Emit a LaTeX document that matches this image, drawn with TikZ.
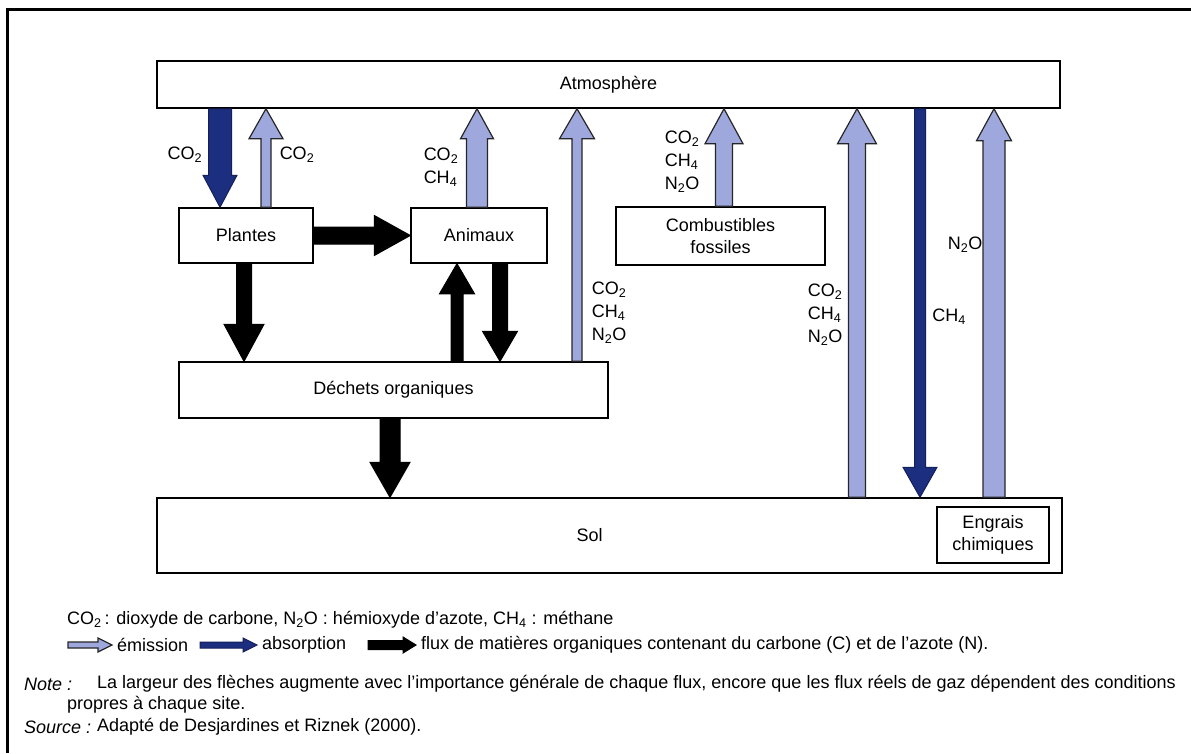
\documentclass[tikz,border=0pt]{standalone}
\usepackage{fontspec}
\setmainfont{Liberation Sans}
\usetikzlibrary{calc}
\usetikzlibrary{positioning}
\definecolor{emis}{RGB}{158,168,220}
\definecolor{absorb}{RGB}{28,46,128}
\newcommand{\cdo}{CO\textsubscript{2}}
\newcommand{\mth}{CH\textsubscript{4}}
\newcommand{\ndo}{N\textsubscript{2}O}
% block arrow: style, from, to, half shaft, half head, head length
\newcommand{\fleche}[6]{%
  \path ($(#3)!#6!(#2)$) coordinate (hb);
  \draw[#1] ($(#2)!#4!90:(#3)$) -- ($(hb)!#4!90:(#3)$) -- ($(hb)!#5!90:(#3)$)
    -- (#3) -- ($(hb)!#5!-90:(#3)$) -- ($(hb)!#4!-90:(#3)$)
    -- ($(#2)!#4!-90:(#3)$) -- cycle;
}
\tikzset{
  boite/.style={draw, line width=1.5pt, inner sep=0pt, align=center},
  emission/.style={draw=black!85, line width=1.2pt, fill=emis, line join=miter},
  absorption/.style={draw=absorb!70!black, line width=1pt, fill=absorb},
  matiere/.style={draw=black, line width=1pt, fill=black},
  gaz/.style={align=left, inner sep=0pt, font=\fontsize{18}{23}\selectfont},
  legende/.style={anchor=west, inner sep=0pt, font=\fontsize{18}{21}\selectfont}
}

\begin{document}
\begin{tikzpicture}[x=1pt, y=-1pt,
    every node/.style={font=\fontsize{18}{21.5}\selectfont}]
  \useasboundingbox (0,0) rectangle (1191,753);
  \draw[line width=3pt] (7,753) -- (7,9) -- (1191,9);

  \node[boite, minimum width=903pt, minimum height=47pt] (atmos) at (608.5,84.5) {Atmosphère};
  \node[boite, minimum width=134pt, minimum height=55pt] (plantes) at (246,235.5) {Plantes};
  \node[boite, minimum width=136pt, minimum height=55pt] (animaux) at (479,235.5) {Animaux};
  \node[boite, minimum width=209pt, minimum height=58pt] (combust) at (720.5,236) {Combustibles\\fossiles};
  \node[boite, minimum width=429pt, minimum height=56pt] (dechets) at (393.5,390) {Déchets organiques};
  \node[boite, minimum width=905pt, minimum height=75pt,
    label={[xshift=-20pt]center:Sol}] (sol) at (609.5,535.5) {};
  \node[boite, minimum width=112pt, minimum height=56pt] (engrais) at (993,535) {Engrais\\chimiques};

  \foreach \n/\x in {a/220,b/266,c/477,d/577,e/724,f/857,g/920,h/994,i/244,j/457,k/500,l/390}{
    \coordinate (x\n) at (\x,0);
  }

  \fleche{absorption}{xa |- atmos.south}{xa |- plantes.north}{11.5pt}{17pt}{32pt}
  \fleche{emission}{xb |- plantes.north}{xb |- atmos.south}{5pt}{17pt}{30pt}
  \fleche{emission}{xc |- animaux.north}{xc |- atmos.south}{10.5pt}{16.5pt}{30pt}
  \fleche{emission}{xd |- dechets.north}{xd |- atmos.south}{5pt}{17.5pt}{30pt}
  \fleche{emission}{xe |- combust.north}{xe |- atmos.south}{8.5pt}{19pt}{35pt}
  \fleche{emission}{xf |- sol.north}{xf |- atmos.south}{8.5pt}{19.5pt}{35pt}
  \fleche{absorption}{xg |- atmos.south}{xg |- sol.north}{5.5pt}{17pt}{30pt}
  \fleche{emission}{xh |- sol.north}{xh |- atmos.south}{11pt}{17.5pt}{32pt}

  \fleche{matiere}{plantes.east}{animaux.west}{8.5pt}{20pt}{36pt}
  \fleche{matiere}{xi |- plantes.south}{xi |- dechets.north}{7.5pt}{20pt}{37pt}
  \fleche{matiere}{xj |- dechets.north}{xj |- animaux.south}{6pt}{17.5pt}{30pt}
  \fleche{matiere}{xk |- animaux.south}{xk |- dechets.north}{7.5pt}{17.5pt}{30pt}
  \fleche{matiere}{xl |- dechets.south}{xl |- sol.north}{10pt}{20pt}{35pt}

  \node[gaz] (g1) at (185,155) {\cdo};
  \node[gaz] (g2) at (297,155) {\cdo};
  \node[gaz] (g3) at (441,167) {\cdo\\\mth};
  \node[gaz] (g4) at (609,313) {\cdo\\\mth\\\ndo};
  \node[gaz] (g5) at (682,162) {\cdo\\\mth\\\ndo};
  \node[gaz] (g6) at (825,315) {\cdo\\\mth\\\ndo};
  \node[gaz] (g7) at (965,245) {\ndo};
  \node[gaz] (g8) at (949,317) {\mth};

  % legende
  \node[legende] (defs) at (67,620) {\cdo\,: dioxyde de carbone, \ndo{} : hémioxyde d'azote, \mth{} : méthane};
  \coordinate (le1) at (68,645);
  \coordinate (le2) at (112,645);
  \coordinate (la1) at (200,645);
  \coordinate (la2) at (257,645);
  \coordinate (lm1) at (368,645);
  \coordinate (lm2) at (416,645);
  \fleche{emission}{le1}{le2}{3pt}{7pt}{14pt}
  \fleche{absorption}{la1}{la2}{3pt}{7pt}{14pt}
  \fleche{matiere}{lm1}{lm2}{4.5pt}{8pt}{13pt}
  \node[legende] (tem) at (117,645) {émission};
  \node[legende] (tab) at (262,645) {absorption};
  \node[legende] (tma) at (421,645) {flux de matières organiques contenant du carbone (C) et de l'azote (N).};

  \node[legende] (note) at (24,684) {\textit{Note :}};
  \node[legende] (note1) at (97,684) {La largeur des flèches augmente avec l'importance générale de chaque flux, encore que les flux réels de gaz dépendent des conditions};
  \node[legende] (note2) at (67,705) {propres à chaque site.};
  \node[legende] (src) at (24,727) {\textit{Source :}};
  \node[legende] (src1) at (97,727) {Adapté de Desjardines et Riznek (2000).};
\end{tikzpicture}
\end{document}
